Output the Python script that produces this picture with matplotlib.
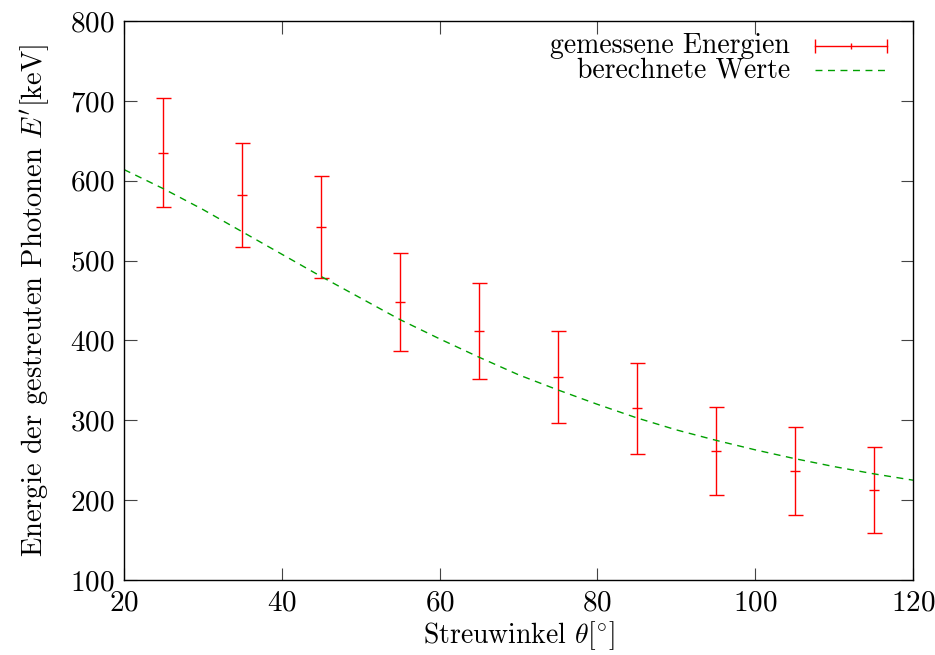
import matplotlib
matplotlib.use("Agg")
import matplotlib.pyplot as plt

# measured scattered photon energies (keV) with errors
theta_meas = [25, 35, 45, 55, 65, 75, 85, 95, 105, 115]
E_meas = [635, 582, 542, 448, 412, 354, 315, 262, 237, 213]
E_err = [68, 65, 64, 61, 60, 58, 57, 55, 55, 54]

# calculated values
theta_calc = [20, 25, 30, 35, 40, 45, 50, 55, 60, 65, 70,
              75, 80, 85, 90, 95, 100, 105, 110, 115, 120]
E_calc = [614, 590, 564, 536, 508, 480, 453, 426, 402, 379, 357,
          338, 320, 303, 288, 275, 263, 252, 242, 233, 225]

plt.rcParams["font.family"] = "serif"
plt.rcParams["font.serif"] = ["cmr10"]
plt.rcParams["mathtext.fontset"] = "cm"
plt.rcParams["axes.formatter.use_mathtext"] = True
plt.rcParams["font.size"] = 20

fig = plt.figure(figsize=(9.35, 6.55), dpi=100)
ax = fig.add_axes([0.1326, 0.1145, 0.8439, 0.8534])

ax.errorbar(theta_meas, E_meas, yerr=E_err, fmt="_", color="red",
            ms=7, mew=1, elinewidth=1, capsize=5.4, capthick=1)
ax.plot(theta_calc, E_calc, color="#00a000", lw=1, dashes=(5, 4))

ax.set_xlim(20, 120)
ax.set_ylim(100, 800)
ax.set_xticks(range(20, 121, 20))
ax.set_yticks(range(100, 801, 100))
ax.tick_params(direction="in", length=9, width=0.8, top=True, right=True,
               pad=7, color="#444444", labelsize=21)
for s in ax.spines.values():
    s.set_linewidth(1.0)

ax.set_xlabel(r"Streuwinkel $\theta$[$^{\circ}$]", labelpad=2)
ax.set_ylabel(r"Energie der gestreuten Photonen $E'$[keV]", labelpad=13,
              fontsize=20.5)

# legend, gnuplot style (text right-aligned, sample on the right)
tr = ax.transAxes
ax.text(0.844, 0.955, "gemessene Energien", transform=tr, ha="right", va="center")
ax.text(0.844, 0.912, "berechnete Werte", transform=tr, ha="right", va="center")
ax.plot([0.876, 0.967], [0.955, 0.955], color="red", lw=1, transform=tr)
ax.plot([0.876, 0.967], [0.955, 0.955], color="red", lw=0, marker="|",
        ms=10, mew=1, transform=tr)
ax.plot([0.9215], [0.955], color="red", marker="|", ms=5, mew=1, transform=tr)
ax.plot([0.876, 0.967], [0.912, 0.912], color="#00a000", lw=1,
        dashes=(5, 4), transform=tr)

fig.savefig("out.png", dpi=100)
